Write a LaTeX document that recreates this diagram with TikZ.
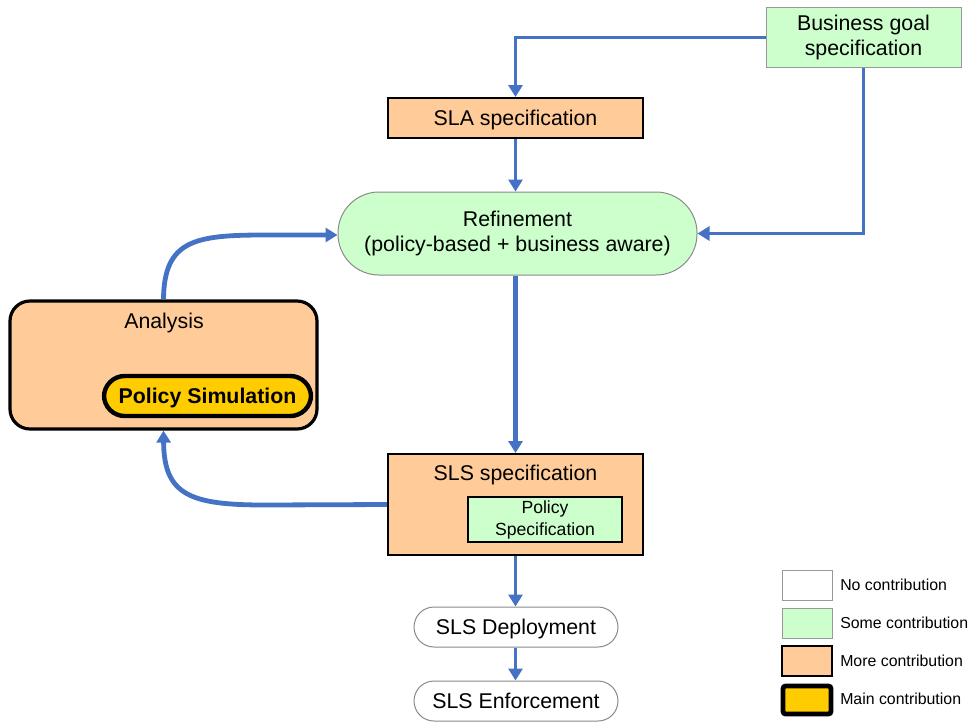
\documentclass[tikz,border=0pt]{standalone}
\usepackage{fontspec}
\setmainfont{Liberation Sans}
\usetikzlibrary{arrows.meta,calc}
\definecolor{lgreen}{HTML}{CCFFCC}
\definecolor{lorange}{HTML}{FFCC99}
\definecolor{lyellow}{HTML}{FFCC00}
\definecolor{ablue}{HTML}{4472C4}
\definecolor{bgray}{HTML}{999999}
\begin{document}
\begin{tikzpicture}[x=0.75pt,y=-0.75pt,
  box/.style={draw,rectangle,inner sep=0pt,align=center,font=\fontsize{16pt}{18.75pt}\selectfont},
  oneline/.style={text height=14.5pt,text depth=3.4pt},
  greenbox/.style={box,fill=lgreen,draw=bgray,line width=0.75pt},
  orangebox/.style={box,fill=lorange,draw=black,line width=1.5pt},
  whitepill/.style={box,oneline,fill=white,draw=bgray!90!black,line width=0.75pt,rounded corners=15pt},
  lbl/.style={inner sep=0pt,oneline,font=\fontsize{16pt}{19pt}\selectfont},
  arr/.style={draw=ablue,line width=2.25pt,-{Triangle[width=10.5pt,length=9pt]}},
  arrthick/.style={arr,line width=3.6pt},
  legtext/.style={anchor=west,inner sep=0pt,text height=10.8pt,text depth=2.5pt,font=\fontsize{11.9pt}{14pt}\selectfont}
]
\useasboundingbox (0,0) rectangle (973,722);

% nodes
\node[greenbox,minimum width=195*0.75pt,minimum height=60*0.75pt] (bg) at (863.5,37.5) {Business goal\\specification};
\node[orangebox,oneline,minimum width=255*0.75pt,minimum height=40*0.75pt] (sla) at (515.5,118) {SLA specification};
\node[greenbox,draw=bgray!90!black,rounded corners=41*0.75pt,minimum width=359*0.75pt,minimum height=83*0.75pt] (ref) at (517.5,233.5) {Refinement\\(policy-based + business aware)};
\node[orangebox,line width=2.4pt,rounded corners=15pt,minimum width=307*0.75pt,minimum height=128*0.75pt] (ana) at (163.5,365) {};
\node[lbl] (anat) at (164,321) {Analysis};
\node[box,oneline,fill=lyellow,draw=black,line width=3.3pt,rounded corners=15.5pt,minimum width=207*0.75pt,minimum height=40*0.75pt,font=\bfseries\fontsize{16pt}{19pt}\selectfont] (psim) at (207.5,396) {Policy Simulation};
\node[orangebox,minimum width=255*0.75pt,minimum height=101*0.75pt] (sls) at (515.5,504.5) {};
\node[lbl] (slst) at (515.5,473) {SLS specification};
\node[greenbox,draw=black,line width=1.5pt,minimum width=154*0.75pt,minimum height=45*0.75pt,font=\fontsize{13.2pt}{16.5pt}\selectfont] (pspec) at (545,519.5) {Policy\\Specification};
\node[whitepill,minimum width=204*0.75pt,minimum height=40*0.75pt] (dep) at (516,627) {SLS Deployment};
\node[whitepill,minimum width=204*0.75pt,minimum height=40*0.75pt] (enf) at (516,701) {SLS Enforcement};

% legend
\node[box,fill=white,draw=bgray,line width=0.75pt,minimum width=50*0.75pt,minimum height=30*0.75pt] (l1) at (807,585) {};
\node[box,fill=lgreen,draw=bgray,line width=0.75pt,minimum width=50*0.75pt,minimum height=30*0.75pt] (l2) at (807,623) {};
\node[box,fill=lorange,draw=black,line width=1.5pt,minimum width=50*0.75pt,minimum height=30*0.75pt] (l3) at (807,661) {};
\node[box,fill=lyellow,draw=black,line width=3.6pt,rounded corners=2pt,minimum width=48*0.75pt,minimum height=28*0.75pt] (l4) at (807,700) {};
\node[legtext] (t1) at (840,585) {No contribution};
\node[legtext] (t2) at (840,623) {Some contribution};
\node[legtext] (t3) at (840,661) {More contribution};
\node[legtext] (t4) at (840,699) {Main contribution};

% connectors
\draw[arr] (bg.west) -| (sla.north);
\draw[arr] (bg.south) |- (ref.east);
\draw[arr] (sla.south) -- (sla.south |- ref.north);
\draw[arrthick] (sla.south |- ref.south) -- (sls.north);
\draw[arrthick] (ana.north) .. controls (164,240) and (195,235) .. (265,235) -- (ref.west |- 0,235);
\draw[arrthick] (sls.west) -- (265,505) .. controls (190,505) and (164,495) .. (ana.south);
\draw[arr] (sls.south) -- (sls.south |- dep.north);
\draw[arr] (sls.south |- dep.south) -- (sls.south |- enf.north);
\end{tikzpicture}
\end{document}
